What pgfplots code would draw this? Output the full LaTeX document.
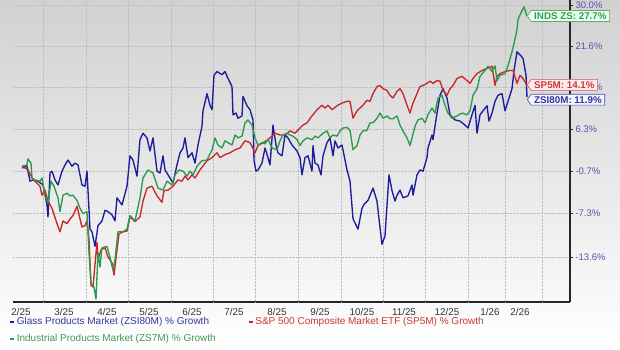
\documentclass[border=0pt]{standalone}
\usepackage{fontspec}
\setmainfont{Liberation Sans}
\usepackage{pgfplots}
\usepackage{pgfplotstable}
\pgfplotsset{compat=1.18}
\usetikzlibrary{shapes.symbols}
\definecolor{cBlue}{HTML}{1C1C9C}
\definecolor{cRed}{HTML}{C82828}
\definecolor{cGreen}{HTML}{2A9A4E}
\definecolor{tBlue}{HTML}{3535A0}
\definecolor{tRed}{HTML}{CC3838}
\definecolor{tGreen}{HTML}{3A9A58}
\definecolor{tickBlue}{HTML}{5555AA}

% x: horizontal chart position (Feb 2025 .. Feb 2026), y: % growth
\pgfplotstableread{
x y
22 -0.2
27 0.1
30 -2.3
33 -2.1
38 -2.3
43 -2.9
47 -6.0
48 -7.8
50 -1.0
52 -0.7
55 -2.1
58 -2.9
62 -0.7
65 0.3
68 1.1
72 0.1
75 0.6
78 0.3
82 -2.9
85 -3.1
87 -0.7
90 -9.6
92 -10.0
95 -12.1
98 -9.1
102 -8.4
105 -6.8
108 -7.0
112 -7.5
115 -8.4
117 -4.9
122 -6.0
127 -3.1
130 1.8
133 1.1
137 -1.5
140 4.5
143 5.6
147 4.8
150 2.6
153 4.8
157 -0.7
160 -1.0
163 1.8
165 -0.5
170 -1.8
173 -2.6
177 0.3
180 2.3
183 3.1
185 4.8
188 1.5
192 2.3
195 0.6
198 3.6
202 6.8
203 9.5
207 12.6
210 10.5
212 9.7
214 16.0
217 16.7
222 16.1
225 16.7
228 15.4
232 13.9
233 8.8
236 9.1
238 8.2
242 8.6
243 12.1
247 10.4
250 9.7
253 7.9
254 1.0
256 -0.7
258 -0.5
262 0.6
265 3.1
268 1.5
270 0.3
273 7.0
276 3.6
278 2.3
282 1.8
285 5.3
288 4.8
292 3.6
297 2.6
300 1.5
302 -1.3
305 1.5
308 1.8
312 -0.7
313 3.5
315 0.6
318 0.3
321 -1.3
323 1.8
327 4.0
330 4.8
333 1.8
335 4.3
338 3.1
342 3.6
347 -0.5
350 -2.3
353 -8.1
358 -9.6
362 -6.5
364 -5.9
368 -5.3
373 -3.4
377 -5.4
379 -8.1
382 -11.8
385 -10.6
389 -1.3
392 -3.8
395 -5.4
397 -4.5
400 -3.7
403 -4.9
408 -4.6
412 -2.9
413 -4.5
417 -1.3
420 -0.5
423 -0.7
427 1.5
428 3.1
432 5.3
433 4.5
437 9.1
440 12.3
443 13.5
447 11.8
450 8.8
455 7.9
460 7.7
465 7.0
468 6.5
472 8.8
475 10.5
477 5.6
480 8.8
483 9.5
487 10.4
489 7.7
492 9.1
495 11.2
498 12.3
502 12.6
505 9.5
508 11.2
512 13.5
514 16.9
517 20.5
521 19.7
523 19.2
526 16.0
527 11.9
}\glass

\pgfplotstableread{
x y
22 0.1
28 -0.5
32 -1.8
35 -2.3
40 -3.1
42 -4.5
45 -3.7
48 -5.4
52 -6.5
57 -8.8
60 -10.0
63 -8.4
67 -8.8
70 -8.1
73 -7.6
77 -6.2
80 -8.1
82 -9.3
85 -9.1
87 -8.4
89 -11.1
91 -17.5
93 -17.7
97 -11.5
98 -14.0
101 -12.6
105 -12.3
108 -13.6
112 -14.4
114 -16.1
117 -12.6
119 -10.3
123 -10.0
127 -9.9
130 -7.8
135 -8.5
140 -7.8
143 -5.4
147 -3.4
152 -3.1
157 -4.6
162 -5.6
164 -3.8
168 -3.7
173 -3.1
178 -2.1
182 -2.3
185 -1.5
188 -2.1
192 -1.3
195 -1.8
200 -0.5
207 1.0
212 1.5
217 2.3
220 1.5
225 2.0
230 2.3
235 2.8
240 3.1
245 4.3
250 4.0
255 2.3
258 3.5
263 4.0
268 4.5
270 4.8
275 5.6
280 5.3
285 5.3
290 6.0
295 5.6
300 6.5
303 7.0
307 7.4
312 8.6
317 9.7
322 10.5
325 10.0
328 10.5
332 9.7
337 10.4
342 10.9
347 11.2
350 11.2
353 8.2
357 9.5
360 10.0
363 10.5
367 11.4
370 11.2
373 12.6
377 13.9
380 14.1
383 13.5
387 13.2
390 12.3
393 11.8
397 13.0
400 13.5
403 12.6
407 10.5
410 9.1
413 10.9
417 12.6
420 13.9
423 14.1
427 14.5
430 14.9
433 14.5
437 15.0
440 14.9
443 13.2
447 12.3
450 13.5
453 14.1
457 15.4
462 15.8
467 15.0
470 14.5
473 15.4
477 16.3
482 16.9
487 17.3
492 17.7
495 14.1
497 15.8
500 16.3
505 16.7
510 16.9
513 16.9
517 14.5
520 16.0
523 15.4
527 14.1
}\spx

\pgfplotstableread{
x y
22 0.1
27 0.3
28 1.3
31 0.6
32 -1.8
35 -2.1
40 -2.3
42 -1.8
45 -4.6
48 -5.7
51 -2.3
54 -3.1
58 -4.9
60 -7.0
63 -4.5
67 -4.2
70 -4.6
73 -4.5
77 -5.3
80 -6.5
83 -7.3
87 -7.0
89 -13.0
91 -17.2
94 -17.7
96 -19.3
98 -13.0
100 -15.0
102 -12.3
107 -12.1
110 -13.7
113 -15.4
115 -14.0
118 -10.0
123 -10.0
127 -9.6
130 -7.6
135 -8.4
140 -4.9
143 -1.8
148 -0.5
153 -1.0
158 -3.4
163 -3.7
167 -2.3
172 -2.9
175 -1.3
179 -0.5
183 -0.7
187 -1.5
190 -0.7
193 -1.3
197 0.1
202 1.0
207 1.1
212 2.8
215 4.8
218 3.6
222 3.1
225 4.3
228 4.0
232 3.6
235 5.3
238 4.8
242 5.1
245 7.4
248 7.9
252 7.0
255 4.8
258 3.6
262 4.0
265 3.8
268 4.6
272 3.1
277 2.8
280 4.3
283 5.3
287 5.6
290 5.3
293 5.1
297 4.5
300 3.5
303 4.3
307 4.8
312 4.5
315 5.1
318 4.8
323 5.6
327 6.0
330 4.8
333 5.3
337 5.1
340 6.0
343 6.5
347 6.6
350 6.1
353 2.8
357 3.5
360 5.3
363 6.0
367 6.1
370 7.4
373 7.4
377 8.2
380 9.1
383 8.2
387 8.6
390 8.1
393 8.1
397 8.6
400 7.0
403 6.0
407 4.8
410 3.5
412 4.8
415 6.8
418 7.9
422 8.2
425 7.4
428 8.8
432 10.0
435 9.1
438 11.8
442 12.3
445 10.5
448 9.1
452 8.2
457 8.6
462 9.1
467 8.8
470 9.5
473 12.3
477 13.5
480 15.8
485 16.9
488 17.7
492 16.7
495 17.8
497 15.0
500 16.0
505 16.3
508 17.8
512 20.5
515 23.0
517 25.0
518 27.0
521 28.4
524 29.6
527 27.7
}\indus

\begin{document}
\begin{tikzpicture}
\path[use as bounding box] (-13pt,-48pt) rectangle (607pt,302pt);
\shade[top color=black!18, middle color=white, bottom color=white] (-13pt,-48pt) rectangle (607pt,302pt);
\begin{axis}[
  at={(0pt,0pt)}, anchor=south west,
  scale only axis, width=557pt, height=302pt,
  xmin=13, xmax=570,
  ymin=-19.68, ymax=31.06,
  y coord trafo/.code={\pgfmathparse{ln(1+#1/100)}},
  y coord inv trafo/.code={\pgfmathparse{(exp(#1)-1)*100}},
  axis x line*=bottom, axis y line*=right,
  axis line style={black!85, line width=1.3pt},
  xtick={21,64,107,149,192,234,277,320,362,404,447,490,520},
  xticklabels={2/25,3/25,4/25,5/25,6/25,7/25,8/25,9/25,10/25,11/25,12/25,1/26,2/26},
  xtick style={draw=none},
  extra x ticks={43,86,128,171,213,255,298,341,383,425,468,505,542},
  extra x tick labels={},
  extra x tick style={grid=major, tick style={draw=none}},
  ytick={-13.6,-7.3,-0.7,6.3,13.7,21.6,30.0},
  yticklabels={-13.6\%,-7.3\%,-0.7\%,6.3\%,13.7\%,21.6\%,30.0\%},
  ytick style={black!85, line width=0.6pt},
  tick align=outside, major tick length=3pt,
  ymajorgrids,
  grid style={densely dotted, black!25, line width=0.5pt},
  /pgf/number format/assume math mode=true,
  xticklabel style={font=\fontsize{9.8}{11}\selectfont, text=black!80, yshift=0pt},
  yticklabel style={font=\fontsize{9.5}{11}\selectfont, text=tickBlue, xshift=-1pt},
  clip=false,
  legend columns=2,
  legend cell align=left,
  legend image code/.code={\draw[#1, line width=1.6pt] (0pt,0pt) -- (4pt,0pt);},
  legend style={draw=none, fill=none, at={(rel axis cs:0,0)}, anchor=north west,
    xshift=-7pt, yshift=-11.5pt, font=\fontsize{10}{11.5}\selectfont,
    row sep=4pt,
    /tikz/every even column/.append style={column sep=30pt}},
  every axis plot/.append style={line width=1.35pt, line join=round},
]
\addplot[cBlue] table[x=x,y=y] {\glass};
\addlegendentry{\textcolor{tBlue}{Glass Products Market (ZSI80M) \% Growth}}
\addplot[cRed] table[x=x,y=y] {\spx};
\addlegendentry{\textcolor{tRed}{S\&P 500 Composite Market ETF (SP5M) \% Growth}}
\addplot[cGreen] table[x=x,y=y] {\indus};
\addlegendentry{\textcolor{tGreen}{Industrial Products Market (ZS7M) \% Growth}}

\node[signal, signal to=west, signal pointer angle=110, draw=cGreen!80, fill=green!8, text=tGreen,
  font=\bfseries\fontsize{9.8}{10}\selectfont, inner xsep=3pt, inner ysep=2pt, anchor=west, line width=0.6pt]
  at (axis cs:527,27.7) {INDS ZS: 27.7\%};
\node[signal, signal to=west, signal pointer angle=110, draw=cRed!80, fill=red!7, text=tRed,
  font=\bfseries\fontsize{9.8}{10}\selectfont, inner xsep=3pt, inner ysep=2pt, anchor=west, line width=0.6pt]
  at (axis cs:527,14.2) {SP5M: 14.1\%};
\node[signal, signal to=west, signal pointer angle=110, draw=cBlue!80, fill=blue!4, text=tBlue,
  font=\bfseries\fontsize{9.8}{10}\selectfont, inner xsep=3pt, inner ysep=2pt, anchor=west, line width=0.6pt]
  at (axis cs:527,11.5) {ZSI80M: 11.9\%};
\end{axis}
\end{tikzpicture}
\end{document}
